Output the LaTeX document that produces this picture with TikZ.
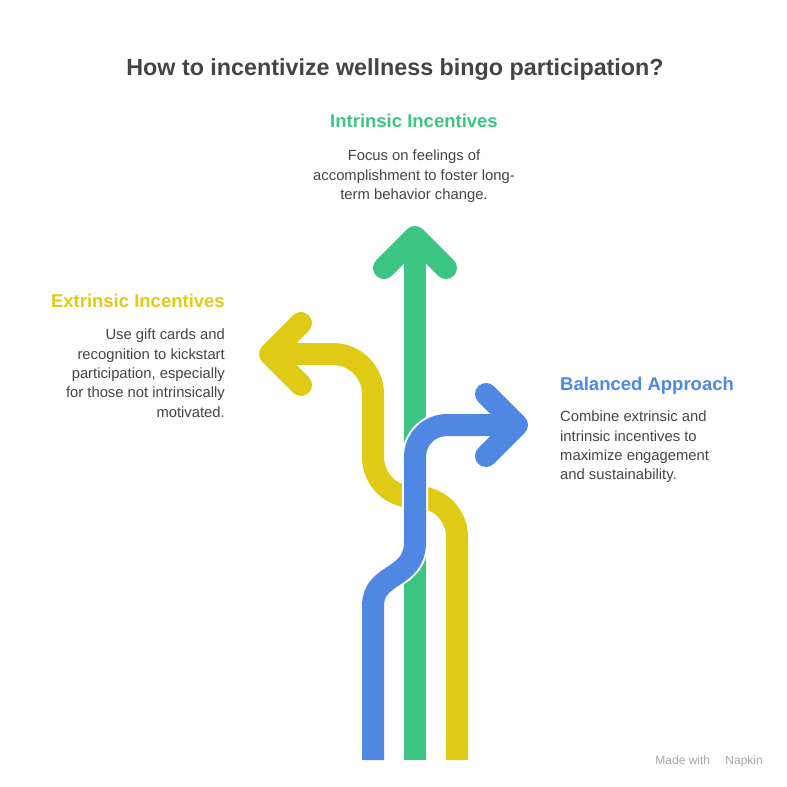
\documentclass[tikz,border=0pt]{standalone}
\usepackage{fontspec}
\setmainfont{Liberation Sans}
\definecolor{intrgreen}{HTML}{3DC584}
\definecolor{extryellow}{HTML}{DFCB15}
\definecolor{balblue}{HTML}{4F87E3}
\definecolor{txtgray}{HTML}{444444}
\begin{document}
\begin{tikzpicture}[x=1pt,y=-1pt,
  band/.style={line width=22pt},
  chevron/.style={line width=22pt, line cap=round, line join=round},
  heading/.style={font=\fontsize{18.5}{22}\selectfont\bfseries, inner sep=0pt, anchor=base},
  desc/.style={font=\fontsize{14.8}{19.3}\selectfont, text=txtgray, inner sep=0pt}]

  \useasboundingbox (0,0) rectangle (787,787);

  % Title
  \node[heading, font=\fontsize{23.3}{26}\selectfont\bfseries, text=txtgray] (title) at (395,75)
    {How to incentivize wellness bingo participation?};

%%%%%%%%%%%%%%%%%%%%%%%%%%%%%%%%%%%%%%%%%%
  % Arrow end points
  \coordinate (gstart) at (415,760);
  \coordinate (gtip) at (415,237);
  \coordinate (ystart) at (457,760);
  \coordinate (ytip) at (270,354);
  \coordinate (bstart) at (373,760);
  \coordinate (btip) at (517,425);

  % Intrinsic: straight up
  \draw[band, intrgreen] (gstart) -- (gtip);
  \draw[chevron, intrgreen] (gtip) ++(-31,31) -- (gtip) -- ++(31,31);

  % Extrinsic: bends to the left
  \draw[band, extryellow, rounded corners=40]
    (ystart) -- (457,497) -- (373,497) -- (373,354) -- (ytip);
  \draw[chevron, extryellow] (ytip) ++(31,-31) -- (ytip) -- ++(31,31);

  % Balanced: weaves across, then right
  \draw[band, balblue, preaction={draw=white, line width=26pt}]
    (bstart) -- (373,606) .. controls (373,572) and (415,580) .. (415,542)
    [rounded corners=32] -- (415,425) -- (btip);
  \draw[chevron, balblue] (btip) ++(-31,-31) -- (btip) -- ++(-31,31);

%%%%%%%%%%%%%%%%%%%%%%%%%%%%%%%%%%%%%%%%%%
  % Labels
  \node[heading, text=intrgreen] (intrhead) at (414,127) {Intrinsic Incentives};
  \node[desc, anchor=north, align=center] (intrdesc) at (414,150)
    {Focus on feelings of\\accomplishment to foster long-\\term behavior change.};

  \node[heading, anchor=base east, text=extryellow] (extrhead) at (225,307) {Extrinsic Incentives};
  \node[desc, anchor=north east, align=right] (extrdesc) at (225,329)
    {Use gift cards and\\recognition to kickstart\\participation, especially\\for those not intrinsically\\motivated.};

  \node[heading, anchor=base west, text=balblue] (balhead) at (560,390) {Balanced Approach};
  \node[desc, anchor=north west, align=left] (baldesc) at (560,411)
    {Combine extrinsic and\\intrinsic incentives to\\maximize engagement\\and sustainability.};

  % Footer
  \node[font=\fontsize{12}{14}\selectfont, text=black!35, anchor=base east, inner sep=0pt] (madewith)
    at (763,764) {Made with \quad Napkin};

\end{tikzpicture}
\end{document}
